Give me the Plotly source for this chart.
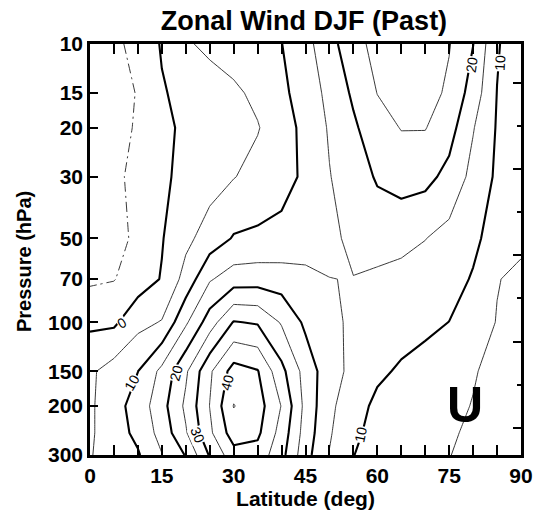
import math
import numpy as np
import plotly.graph_objects as go

# Latitude grid (deg N) and pressure levels (hPa)
lats = [0, 5, 10, 15, 20, 25, 30, 35, 40, 45, 50, 55, 60, 65, 70, 75, 80, 85, 90]
levels_hpa = [10, 15, 20, 30, 50, 70, 100, 150, 200, 250, 300]

# Zonal-mean zonal wind (m/s) on each pressure level, 0N..90N
u_10hpa = [-7.5, -6.2, -3.3, 0.4, 4.4, 6.1, 7.4, 8.7, 9.9, 13.4, 18.2, 23.3, 26.5, 28.0, 27.8, 25.3, 20.1, 10.5, 6.5]
u_15hpa = [-7.8, -6.5, -4.8, -0.4, 1.3, 2.7, 4.1, 6.1, 8.9, 12.3, 16.3, 20.8, 25.1, 26.8, 27.0, 24.1, 17.8, 9.9, 6.5]
u_20hpa = [-7.5, -6.3, -4.6, -1.0, 0.8, 2.2, 3.5, 4.7, 7.9, 11.3, 15.5, 19.2, 23.0, 25.2, 25.2, 22.0, 15.3, 9.6, 6.3]
u_30hpa = [-7.3, -6.0, -3.7, -0.8, 1.2, 3.0, 4.8, 6.6, 8.4, 10.8, 14.8, 17.6, 20.5, 22.0, 21.5, 18.5, 13.5, 9.2, 6.2]
u_50hpa = [-7.0, -6.3, -4.2, -0.3, 3.8, 7.2, 10.4, 10.9, 11.3, 12.2, 14.0, 16.0, 17.3, 16.4, 15.1, 13.4, 11.0, 8.0, 6.0]
u_70hpa = [-5.8, -5.2, -2.5, 0.3, 6.8, 14.5, 17.5, 17.8, 17.5, 16.5, 15.05, 14.9, 14.0, 13.5, 13.0, 11.8, 9.6, 5.2, 4.0]
u_100hpa = [-1.0, -0.9, 3.5, 5.3, 14.2, 22.5, 30.3, 29.5, 24.5, 19.0, 16.2, 14.1, 13.3, 12.2, 11.1, 9.95, 7.5, 4.8, 3.2]
u_150hpa = [4.2, 7.1, 9.95, 16.3, 24.2, 34.2, 42.0, 40.3, 31.4, 23.0, 17.0, 13.7, 11.0, 9.3, 8.2, 7.0, 5.4, 3.5, 2.5]
u_200hpa = [4.2, 8.2, 12.0, 18.2, 26.0, 35.1, 45.2, 42.2, 34.8, 23.5, 16.0, 12.2, 8.8, 7.8, 7.0, 6.2, 4.8, 3.0, 2.0]
u_250hpa = [4.3, 7.8, 11.2, 16.8, 24.5, 34.0, 42.5, 41.0, 33.0, 22.8, 15.5, 11.0, 8.3, 7.3, 6.4, 5.5, 4.3, 2.8, 1.8]
u_300hpa = [4.7, 7.2, 9.5, 14.8, 20.3, 30.5, 38.0, 38.0, 31.6, 21.8, 14.8, 10.1, 8.0, 6.9, 5.9, 5.1, 4.0, 2.6, 1.5]

u_wind = np.array([u_10hpa, u_15hpa, u_20hpa, u_30hpa, u_50hpa, u_70hpa,
                   u_100hpa, u_150hpa, u_200hpa, u_250hpa, u_300hpa])

# Axis ticks
lat_ticks = [0, 15, 30, 45, 60, 75, 90]
pressure_ticks = [10, 15, 20, 30, 50, 70, 100, 150, 200, 300]

# Inline contour labels: (level, latitude, pressure, text angle)
contour_labels = [
    (0, 6.6, 100.7, -31),
    (10, 8.7, 165.0, -60),
    (20, 18.0, 152.0, -75),
    (30, 22.5, 254.0, 68),
    (40, 28.7, 164.0, -75),
    (20, 79.7, 11.9, -81),
    (10, 85.7, 11.65, -87),
    (10, 56.5, 254.0, -78),
]

# Right-hand axis: log-pressure height z = H ln(1000/p)
scale_height_km = 7.0
p_top, p_bottom = 10, 300
z_bottom = scale_height_km * math.log(1000 / p_bottom)
z_top = scale_height_km * math.log(1000 / p_top)

# Plot-area geometry (pixels)
FIG_W, FIG_H = 533, 514
M_L, M_R, M_T, M_B = 90, 12, 44, 59
AREA_W = FIG_W - M_L - M_R
AREA_H = FIG_H - M_T - M_B

BOLD = dict(family="Liberation Sans", color="black", weight="bold")

fig = go.Figure()

common = dict(x=lats, y=levels_hpa, z=u_wind, showscale=False,
              hoverinfo="skip", autocontour=False)

# positive contours every 10 m/s (thick)
fig.add_trace(go.Contour(
    **common,
    contours=dict(start=0, end=40, size=10, coloring="none", showlabels=False),
    line=dict(color="black", width=2.1, smoothing=0),
))
# intermediate 5 m/s contours (thin)
fig.add_trace(go.Contour(
    **common,
    contours=dict(start=5, end=45, size=10, coloring="none", showlabels=False),
    line=dict(color="#222222", width=0.9, smoothing=0),
))
# easterlies (dash-dot)
fig.add_trace(go.Contour(
    **common,
    contours=dict(start=-5, end=-5, size=5, coloring="none", showlabels=False),
    line=dict(color="#222222", width=0.9, smoothing=0, dash="10px,4px,2px,4px"),
))
# invisible carrier for the log-pressure height axis on the right
fig.add_trace(go.Scatter(
    x=[lats[0], lats[0]], y=[z_bottom, z_top], yaxis="y2", mode="lines",
    line=dict(width=0, color="rgba(0,0,0,0)"), showlegend=False, hoverinfo="skip",
))

annotations = []
for level, lat, p, ang in contour_labels:
    annotations.append(dict(
        x=lat, y=math.log10(p), xref="x", yref="y", text=str(level),
        showarrow=False, textangle=ang, bgcolor="white", borderpad=0,
        font=dict(family="Liberation Sans", size=14, color="black"),
    ))
# panel letter
annotations.append(dict(
    x=(465 - M_L) / AREA_W, y=(FIG_H - M_B - 405) / AREA_H,
    xref="paper", yref="paper", text="U", showarrow=False,
    font=dict(size=50, **BOLD), xanchor="center", yanchor="middle",
))
# vertical axis title
annotations.append(dict(
    x=(24 - M_L) / AREA_W, y=(FIG_H - M_B - 262) / AREA_H,
    xref="paper", yref="paper", text="Pressure (hPa)", showarrow=False,
    textangle=-90, font=dict(size=20, **BOLD), xanchor="center", yanchor="middle",
))

fig.update_layout(
    width=FIG_W, height=FIG_H,
    margin=dict(l=M_L, r=M_R, t=M_T, b=M_B, autoexpand=False),
    paper_bgcolor="white", plot_bgcolor="white",
    showlegend=False,
    title=dict(text="Zonal Wind DJF (Past)", x=(304 / FIG_W), xanchor="center",
               y=1 - 21 / FIG_H, yanchor="middle", yref="container",
               font=dict(size=27, **BOLD)),
    xaxis=dict(
        range=[0, 90], tickmode="array", tickvals=lat_ticks,
        ticktext=[str(t) for t in lat_ticks],
        ticks="inside", ticklen=10, tickwidth=2, tickcolor="black",
        minor=dict(dtick=5, tick0=0, ticks="inside", ticklen=4, tickwidth=2,
                   tickcolor="black", showgrid=False),
        showline=True, linewidth=2.5, linecolor="black", mirror="allticks",
        showgrid=False, zeroline=False, automargin=False,
        ticklabeloverflow="allow",
        tickfont=dict(size=21, **BOLD),
        title=dict(text="Latitude (deg)", font=dict(size=21, **BOLD), standoff=4),
    ),
    yaxis=dict(
        type="log", range=[math.log10(p_bottom), math.log10(p_top)],
        tickmode="array", tickvals=pressure_ticks,
        ticktext=[str(t) for t in pressure_ticks],
        ticks="inside", ticklen=8, tickwidth=2, tickcolor="black",
        showline=True, linewidth=2.5, linecolor="black", mirror=True,
        showgrid=False, zeroline=False, automargin=False,
        ticklabeloverflow="allow",
        tickfont=dict(size=21, **BOLD),
    ),
    yaxis2=dict(
        overlaying="y", side="right", range=[z_bottom, z_top],
        tickmode="linear", tick0=0, dtick=5,
        ticks="inside", ticklen=8, tickwidth=2, tickcolor="black",
        minor=dict(dtick=2.5, tick0=0, ticks="inside", ticklen=4, tickwidth=2,
                   tickcolor="black", showgrid=False),
        showticklabels=False, showgrid=False, zeroline=False, showline=False,
        automargin=False,
    ),
    annotations=annotations,
)

fig.write_html("out.html")
